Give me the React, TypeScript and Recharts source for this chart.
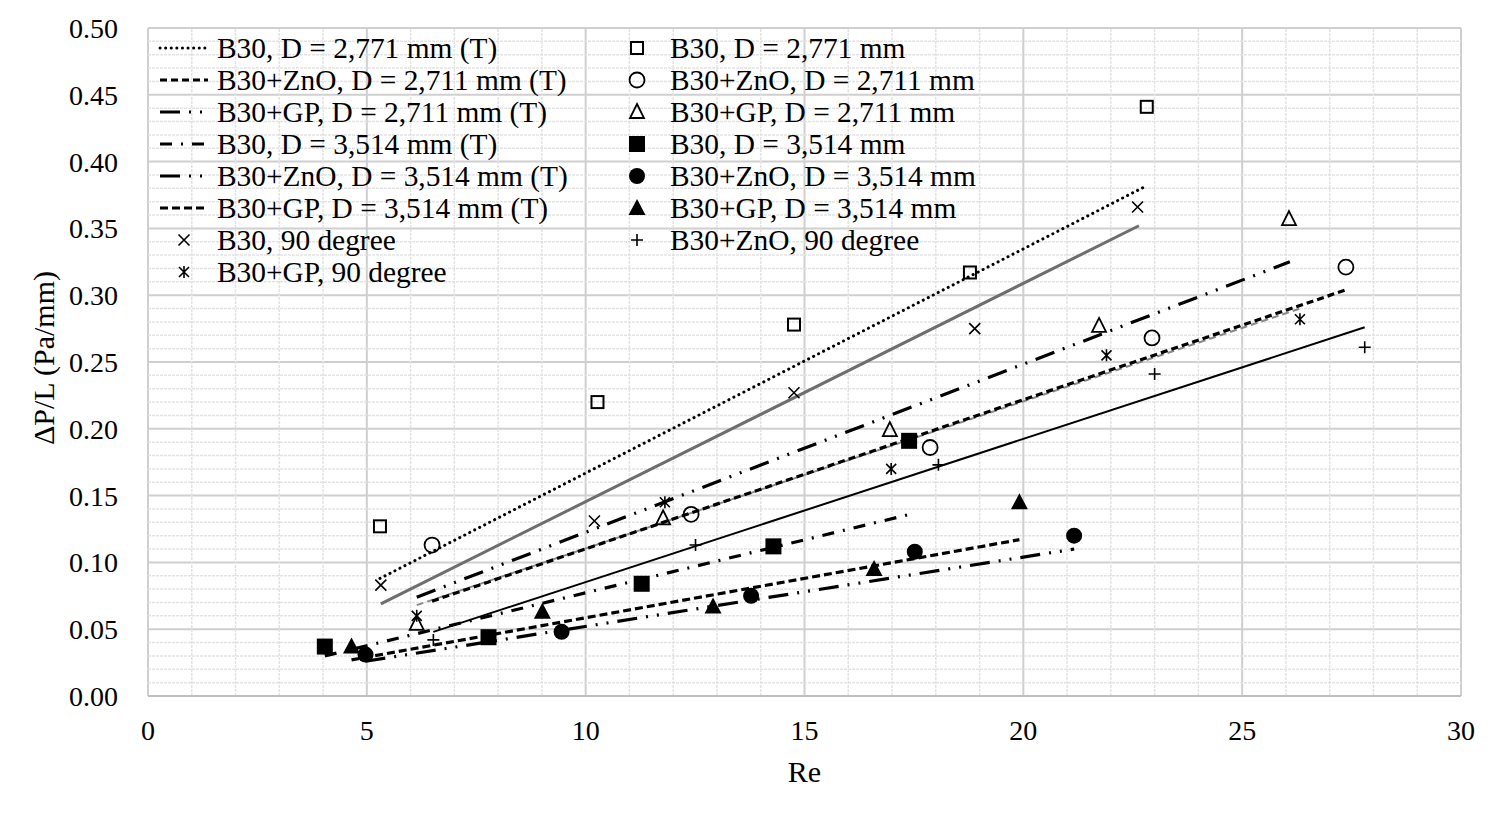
import React from "react";
import { ScatterChart, Scatter, XAxis, YAxis, CartesianGrid, ReferenceLine, Label } from "recharts";

const FONT = '"Liberation Serif", "Times New Roman", serif';

const xTicks = [0, 5, 10, 15, 20, 25, 30];
const yTicks = [0, 0.05, 0.1, 0.15, 0.2, 0.25, 0.3, 0.35, 0.4, 0.45, 0.5];

// measured points
const reB30Small = [5.3, 10.27, 14.76, 18.78, 22.82];
const dpB30Small = [0.127, 0.22, 0.278, 0.317, 0.441];
const reZnoSmall = [6.49, 12.41, 17.87, 22.94, 27.37];
const dpZnoSmall = [0.113, 0.136, 0.186, 0.268, 0.321];
const reGpSmall = [6.14, 11.77, 16.95, 21.73, 26.07];
const dpGpSmall = [0.054, 0.133, 0.199, 0.277, 0.357];
const reB30Big = [4.04, 7.78, 11.28, 14.29, 17.39];
const dpB30Big = [0.037, 0.044, 0.084, 0.112, 0.191];
const reZnoBig = [4.97, 9.45, 13.78, 17.52, 21.16];
const dpZnoBig = [0.031, 0.048, 0.075, 0.108, 0.12];
const reGpBig = [4.65, 9.01, 12.91, 16.59, 19.91];
const dpGpBig = [0.037, 0.063, 0.067, 0.095, 0.145];
const reB30Deg = [5.32, 10.2, 14.76, 18.89, 22.61];
const dpB30Deg = [0.083, 0.131, 0.227, 0.275, 0.366];
const reZnoDeg = [6.52, 12.51, 18.06, 23.0, 27.8];
const dpZnoDeg = [0.042, 0.113, 0.173, 0.241, 0.261];
const reGpDeg = [6.14, 11.81, 16.98, 21.9, 26.32];
const dpGpDeg = [0.06, 0.145, 0.17, 0.255, 0.282];

// theory / fit lines (end points)
const reB30SmallT = [5.3, 22.82];
const dpB30SmallT = [0.088, 0.382];
const reZnoSmallT = [6.49, 27.37];
const dpZnoSmallT = [0.071, 0.304];
const reGpSmallT = [6.14, 26.09];
const dpGpSmallT = [0.074, 0.325];
const reB30BigT = [4.04, 17.41];
const dpB30BigT = [0.03, 0.136];
const reZnoBigT = [4.97, 21.16];
const dpZnoBigT = [0.026, 0.11];
const reGpBigT = [4.65, 19.91];
const dpGpBigT = [0.027, 0.117];
const reB30DegFit = [5.32, 22.64];
const dpB30DegFit = [0.069, 0.352];
const reZnoDegFit = [6.52, 27.8];
const dpZnoDegFit = [0.048, 0.276];
const reGpDegFit = [6.14, 26.32];
const dpGpDegFit = [0.068, 0.29];

const toPts = (xs: number[], ys: number[]) => xs.map((x, i) => ({ x, y: ys[i] }));

const minorX: number[] = [];
for (let i = 1; i < 30; i++) if (i % 5 !== 0) minorX.push(i);
const minorY: number[] = [];
for (let i = 1; i < 50; i++) if (i % 5 !== 0) minorY.push(i / 100);

const NoDot = () => <g />;

const OpenSquare = ({ cx, cy }: any) => (
  <rect x={cx - 6} y={cy - 6} width={12} height={12} fill="none" stroke="#000" strokeWidth={2} />
);
const OpenCircle = ({ cx, cy }: any) => <circle cx={cx} cy={cy} r={7.5} fill="none" stroke="#000" strokeWidth={1.8} />;
const OpenTriangle = ({ cx, cy }: any) => (
  <path d={`M${cx},${cy - 8} L${cx + 7},${cy + 6} L${cx - 7},${cy + 6} Z`} fill="none" stroke="#000" strokeWidth={1.8} />
);
const FilledSquare = ({ cx, cy }: any) => <rect x={cx - 8} y={cy - 8} width={16} height={16} fill="#000" />;
const FilledCircle = ({ cx, cy }: any) => <circle cx={cx} cy={cy} r={8} fill="#000" />;
const FilledTriangle = ({ cx, cy }: any) => (
  <path d={`M${cx},${cy - 9} L${cx + 8.5},${cy + 7} L${cx - 8.5},${cy + 7} Z`} fill="#000" />
);
const Cross = ({ cx, cy }: any) => (
  <path d={`M${cx - 5.5},${cy - 5.5} L${cx + 5.5},${cy + 5.5} M${cx + 5.5},${cy - 5.5} L${cx - 5.5},${cy + 5.5}`} stroke="#000" strokeWidth={1.6} />
);
const Plus = ({ cx, cy }: any) => (
  <path d={`M${cx - 6},${cy} L${cx + 6},${cy} M${cx},${cy - 6} L${cx},${cy + 6}`} stroke="#000" strokeWidth={1.6} />
);
const Star = ({ cx, cy }: any) => (
  <path
    d={`M${cx - 5},${cy - 5} L${cx + 5},${cy + 5} M${cx + 5},${cy - 5} L${cx - 5},${cy + 5} M${cx},${cy - 6} L${cx},${cy + 6}`}
    stroke="#000"
    strokeWidth={1.6}
  />
);

const lineSeries = [
  { name: "B30, D = 2,771 mm (T)", xs: reB30SmallT, ys: dpB30SmallT, stroke: "#000", width: 3, dash: "0.1 5.5", cap: "round" },
  { name: "B30+ZnO, D = 2,711 mm (T)", xs: reZnoSmallT, ys: dpZnoSmallT, stroke: "#000", width: 3.2, dash: "7 4" },
  { name: "B30+GP, D = 2,711 mm (T)", xs: reGpSmallT, ys: dpGpSmallT, stroke: "#000", width: 3.2, dash: "20 9 2 9 2 9" },
  { name: "B30, D = 3,514 mm (T)", xs: reB30BigT, ys: dpB30BigT, stroke: "#000", width: 3.2, dash: "12 9 2 9" },
  { name: "B30+ZnO, D = 3,514 mm (T)", xs: reZnoBigT, ys: dpZnoBigT, stroke: "#000", width: 3.2, dash: "20 9 2 9 2 9" },
  { name: "B30+GP, D = 3,514 mm (T)", xs: reGpBigT, ys: dpGpBigT, stroke: "#000", width: 3.2, dash: "8 4" },
];

const fitSeries = [
  { name: "B30, 90 degree fit", xs: reB30DegFit, ys: dpB30DegFit, stroke: "#6e6e6e", width: 3, dash: undefined },
  { name: "B30+ZnO, 90 degree fit", xs: reZnoDegFit, ys: dpZnoDegFit, stroke: "#000", width: 2, dash: undefined },
  { name: "B30+GP, 90 degree fit", xs: reGpDegFit, ys: dpGpDegFit, stroke: "#8a8a8a", width: 2, dash: "7 4" },
];

const markerSeries = [
  { name: "B30, D = 2,771 mm", xs: reB30Small, ys: dpB30Small, shape: OpenSquare },
  { name: "B30+ZnO, D = 2,711 mm", xs: reZnoSmall, ys: dpZnoSmall, shape: OpenCircle },
  { name: "B30+GP, D = 2,711 mm", xs: reGpSmall, ys: dpGpSmall, shape: OpenTriangle },
  { name: "B30, D = 3,514 mm", xs: reB30Big, ys: dpB30Big, shape: FilledSquare },
  { name: "B30+ZnO, D = 3,514 mm", xs: reZnoBig, ys: dpZnoBig, shape: FilledCircle },
  { name: "B30+GP, D = 3,514 mm", xs: reGpBig, ys: dpGpBig, shape: FilledTriangle },
  { name: "B30, 90 degree", xs: reB30Deg, ys: dpB30Deg, shape: Cross },
  { name: "B30+ZnO, 90 degree", xs: reZnoDeg, ys: dpZnoDeg, shape: Plus },
  { name: "B30+GP, 90 degree", xs: reGpDeg, ys: dpGpDeg, shape: Star },
];

const rowStyle: React.CSSProperties = { height: 32, display: "flex", alignItems: "center", whiteSpace: "nowrap" };

function ChartLegend() {
  const byName = (name: string) => markerSeries.find((m) => m.name === name)!;
  const leftMarkers = [byName("B30, 90 degree"), byName("B30+GP, 90 degree")];
  const rightMarkers = markerSeries.filter((m) => m.name !== "B30, 90 degree" && m.name !== "B30+GP, 90 degree");
  return (
    <div style={{ position: "absolute", left: 158, top: 32, fontFamily: FONT, fontSize: 29.4, color: "#000", lineHeight: "32px" }}>
      <div style={{ position: "absolute", left: 0, top: 0 }}>
        {lineSeries.map((s) => (
          <div key={s.name} style={rowStyle}>
            <svg width={52} height={20} style={{ marginRight: 7 }}>
              <line x1={2} y1={10} x2={50} y2={10} stroke={s.stroke} strokeWidth={s.width} strokeDasharray={s.dash} strokeLinecap={(s as any).cap || "butt"} />
            </svg>
            <span>{s.name}</span>
          </div>
        ))}
        {leftMarkers.map((m) => {
          const Shape = m.shape;
          return (
            <div key={m.name} style={rowStyle}>
              <svg width={52} height={20} style={{ marginRight: 7 }}>
                <Shape cx={26} cy={10} />
              </svg>
              <span>{m.name}</span>
            </div>
          );
        })}
      </div>
      <div style={{ position: "absolute", left: 466, top: 0 }}>
        {rightMarkers.map((m) => {
          const Shape = m.shape;
          return (
            <div key={m.name} style={rowStyle}>
              <svg width={26} height={24} style={{ marginRight: 20 }}>
                <Shape cx={13} cy={12} />
              </svg>
              <span>{m.name}</span>
            </div>
          );
        })}
      </div>
    </div>
  );
}

export default function App() {
  return (
    <div style={{ position: "relative", width: 1500, height: 816, background: "#fff" }}>
      <style>{"body{margin:0}"}</style>
      <ScatterChart width={1500} height={816} margin={{ top: 28, right: 39, bottom: 30, left: 0 }}>
        <CartesianGrid stroke="#cfcfcf" strokeWidth={2} />
        {minorX.map((v) => (
          <ReferenceLine key={"mx" + v} x={v} stroke="#e3e3e3" strokeWidth={1.5} strokeDasharray="3 1" />
        ))}
        {minorY.map((v) => (
          <ReferenceLine key={"my" + v} y={v} stroke="#e3e3e3" strokeWidth={1.5} strokeDasharray="3 1" />
        ))}
        <XAxis
          type="number"
          dataKey="x"
          domain={[0, 30]}
          ticks={xTicks}
          height={90}
          tickSize={0}
          tickMargin={24}
          axisLine={{ stroke: "#bfbfbf", strokeWidth: 2 }}
          tick={{ fill: "#000", fontSize: 28, fontFamily: FONT }}
        >
          <Label value="Re" position="insideBottom" offset={4} style={{ fill: "#000", fontSize: 30, fontFamily: FONT }} />
        </XAxis>
        <YAxis
          type="number"
          dataKey="y"
          domain={[0, 0.5]}
          ticks={yTicks}
          width={148}
          tickSize={0}
          tickMargin={30}
          axisLine={false}
          tickFormatter={(v: number) => v.toFixed(2)}
          tick={{ fill: "#000", fontSize: 28, fontFamily: FONT }}
        >
          <Label value="ΔP/L  (Pa/mm)" angle={-90} position="center" dx={-31} dy={-4} style={{ fill: "#000", fontSize: 30, fontFamily: FONT }} />
        </YAxis>
        {fitSeries.map((s) => (
          <Scatter
            key={s.name}
            name={s.name}
            data={toPts(s.xs, s.ys)}
            shape={NoDot}
            line={{ stroke: s.stroke, strokeWidth: s.width, strokeDasharray: s.dash }}
            isAnimationActive={false}
          />
        ))}
        {lineSeries.map((s) => (
          <Scatter
            key={s.name}
            name={s.name}
            data={toPts(s.xs, s.ys)}
            shape={NoDot}
            line={{ stroke: s.stroke, strokeWidth: s.width, strokeDasharray: s.dash, strokeLinecap: (s as any).cap || "butt" }}
            isAnimationActive={false}
          />
        ))}
        {markerSeries.map((m) => (
          <Scatter key={m.name} name={m.name} data={toPts(m.xs, m.ys)} shape={m.shape} isAnimationActive={false} />
        ))}
      </ScatterChart>
      <ChartLegend />
    </div>
  );
}
